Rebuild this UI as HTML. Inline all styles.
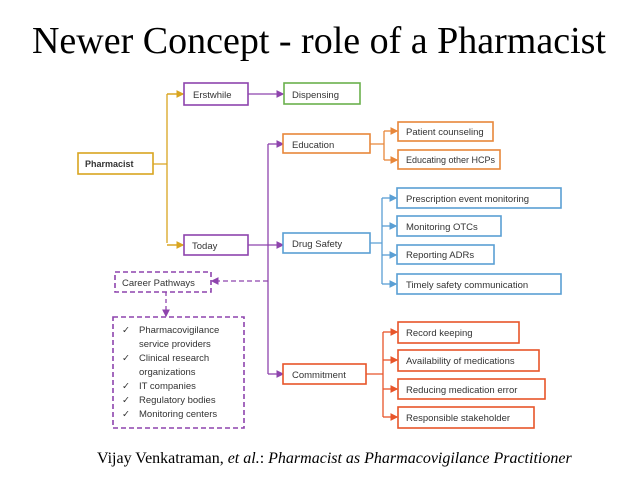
<!DOCTYPE html>
<html><head><style>
body{margin:0;width:638px;height:479px;background:#fff;overflow:hidden;position:relative;font-family:"Liberation Sans",sans-serif}
.t{position:absolute;left:0;width:638px;top:19px;text-align:center;font:38px "Liberation Serif",serif;color:#000;white-space:nowrap}
.c{position:absolute;left:97px;top:450px;font:16px "Liberation Serif",serif;white-space:nowrap}
svg text{font-family:"Liberation Sans",sans-serif;font-size:9.5px;fill:#333}
</style></head><body>
<div class="t">Newer Concept - role of a Pharmacist</div>
<svg width="638" height="479" style="position:absolute;left:0;top:0">
<defs>
<marker id="ay" markerWidth="6" markerHeight="6" refX="5" refY="3" orient="auto"><path d="M0,0L6,3L0,6z" fill="#d9a520"/></marker>
<marker id="ap" markerWidth="6" markerHeight="6" refX="5" refY="3" orient="auto"><path d="M0,0L6,3L0,6z" fill="#8e44ad"/></marker>
<marker id="ao" markerWidth="6" markerHeight="6" refX="5" refY="3" orient="auto"><path d="M0,0L6,3L0,6z" fill="#e8873a"/></marker>
<marker id="ab" markerWidth="6" markerHeight="6" refX="5" refY="3" orient="auto"><path d="M0,0L6,3L0,6z" fill="#5a9fd4"/></marker>
<marker id="ar" markerWidth="6" markerHeight="6" refX="5" refY="3" orient="auto"><path d="M0,0L6,3L0,6z" fill="#e8552a"/></marker>
</defs>
<g fill="none" stroke-width="1.3">
<path d="M153,164H167M167,94V243M167,94H183M167,245H183" stroke="#d9a520"/>
<path d="M167,94H183" stroke="#d9a520" marker-end="url(#ay)"/>
<path d="M167,245H183" stroke="#d9a520" marker-end="url(#ay)"/>
<path d="M248,94H283" stroke="#8e44ad" marker-end="url(#ap)"/>
<path d="M248,245H283" stroke="#8e44ad" marker-end="url(#ap)"/>
<path d="M268,144V374" stroke="#8e44ad"/>
<path d="M268,144H283" stroke="#8e44ad" marker-end="url(#ap)"/>
<path d="M268,374H283" stroke="#8e44ad" marker-end="url(#ap)"/>
<path d="M268,281H212" stroke="#8e44ad" stroke-dasharray="5,3" marker-end="url(#ap)"/>
<path d="M166,292V316" stroke="#8e44ad" stroke-dasharray="4,3" marker-end="url(#ap)"/>
<path d="M370,144H384M384,131V160" stroke="#e8873a"/>
<path d="M384,131H397" stroke="#e8873a" marker-end="url(#ao)"/>
<path d="M384,160H397" stroke="#e8873a" marker-end="url(#ao)"/>
<path d="M370,243H382M382,198V284" stroke="#5a9fd4"/>
<path d="M382,198H396" stroke="#5a9fd4" marker-end="url(#ab)"/>
<path d="M382,226H396" stroke="#5a9fd4" marker-end="url(#ab)"/>
<path d="M382,255H396" stroke="#5a9fd4" marker-end="url(#ab)"/>
<path d="M382,284H396" stroke="#5a9fd4" marker-end="url(#ab)"/>
<path d="M366,374H383M383,332V417" stroke="#e8552a"/>
<path d="M383,332H397" stroke="#e8552a" marker-end="url(#ar)"/>
<path d="M383,360H397" stroke="#e8552a" marker-end="url(#ar)"/>
<path d="M383,389H397" stroke="#e8552a" marker-end="url(#ar)"/>
<path d="M383,417H397" stroke="#e8552a" marker-end="url(#ar)"/>
</g>
<g fill="#fff" stroke-width="1.6">
<rect x="78" y="153" width="75" height="21" stroke="#d9a520"/>
<rect x="184" y="83" width="64" height="22" stroke="#8e44ad"/>
<rect x="284" y="83" width="76" height="21" stroke="#6ab04c"/>
<rect x="184" y="235" width="64" height="20" stroke="#8e44ad"/>
<rect x="283" y="134" width="87" height="19" stroke="#e8873a"/>
<rect x="283" y="233" width="87" height="20" stroke="#5a9fd4"/>
<rect x="283" y="364" width="83" height="20" stroke="#e8552a"/>
<rect x="115" y="272" width="96" height="20" stroke="#8e44ad" stroke-dasharray="5,3"/>
<rect x="113" y="317" width="131" height="111" stroke="#8e44ad" stroke-dasharray="5,3"/>
<rect x="398" y="122" width="95" height="19" stroke="#e8873a"/>
<rect x="398" y="150" width="102" height="19" stroke="#e8873a"/>
<rect x="397" y="188" width="164" height="20" stroke="#5a9fd4"/>
<rect x="397" y="216" width="104" height="20" stroke="#5a9fd4"/>
<rect x="397" y="245" width="97" height="19" stroke="#5a9fd4"/>
<rect x="397" y="274" width="164" height="20" stroke="#5a9fd4"/>
<rect x="398" y="322" width="121" height="21" stroke="#e8552a"/>
<rect x="398" y="350" width="141" height="21" stroke="#e8552a"/>
<rect x="398" y="379" width="147" height="20" stroke="#e8552a"/>
<rect x="398" y="407" width="136" height="21" stroke="#e8552a"/>
</g>
<text x="85" y="167" font-weight="bold" style="font-size:9px">Pharmacist</text>
<text x="193" y="98">Erstwhile</text>
<text x="292" y="98">Dispensing</text>
<text x="192" y="249">Today</text>
<text x="292" y="148">Education</text>
<text x="292" y="247">Drug Safety</text>
<text x="292" y="378">Commitment</text>
<text x="122" y="286">Career Pathways</text>
<text x="406" y="135">Patient counseling</text>
<text x="406" y="163" style="font-size:9px">Educating other HCPs</text>
<text x="406" y="202">Prescription event monitoring</text>
<text x="406" y="230">Monitoring OTCs</text>
<text x="406" y="258">Reporting ADRs</text>
<text x="406" y="288">Timely safety communication</text>
<text x="406" y="336">Record keeping</text>
<text x="406" y="364">Availability of medications</text>
<text x="406" y="393">Reducing medication error</text>
<text x="406" y="421">Responsible stakeholder</text>
<g>
<text x="122" y="333">✓</text><text x="139" y="333">Pharmacovigilance</text>
<text x="139" y="347">service providers</text>
<text x="122" y="361">✓</text><text x="139" y="361">Clinical research</text>
<text x="139" y="375">organizations</text>
<text x="122" y="389">✓</text><text x="139" y="389">IT companies</text>
<text x="122" y="403">✓</text><text x="139" y="403">Regulatory bodies</text>
<text x="122" y="417">✓</text><text x="139" y="417">Monitoring centers</text>
</g>
</svg>
<div class="c">Vijay Venkatraman, <i>et al.</i>: <i>Pharmacist as Pharmacovigilance Practitioner</i></div>
</body></html>
